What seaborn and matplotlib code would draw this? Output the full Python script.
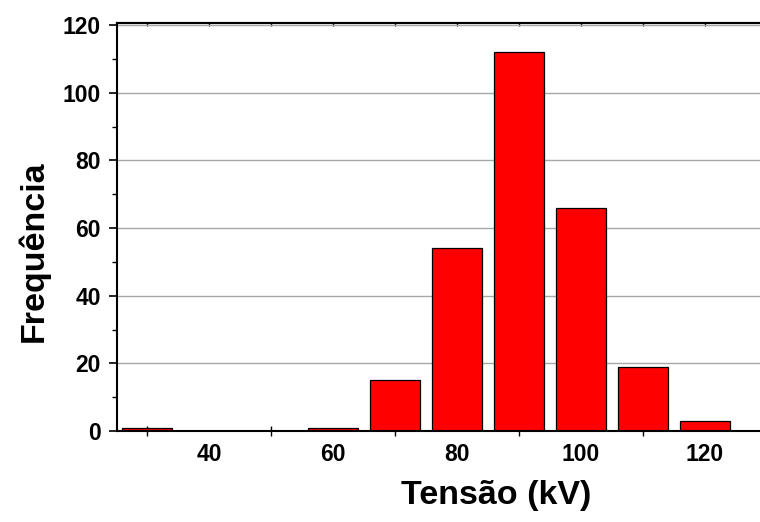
import matplotlib
matplotlib.use('Agg')
import matplotlib.pyplot as plt
import seaborn as sns
import pandas as pd
from matplotlib.ticker import FixedLocator, NullFormatter

# Data
voltage_kv = [30, 40, 50, 60, 70, 80, 90, 100, 110, 120]
frequency = [1, 0, 0, 1, 15, 54, 112, 66, 19, 3]
x_label_ticks = [40, 60, 80, 100, 120]
x_mark_ticks = [30, 50, 70, 90, 110]
top_ticks = [30, 40, 50, 60, 70, 80, 90, 100, 110, 120]
y_ticks = [0, 20, 40, 60, 80, 100, 120]
y_minor_ticks = [10, 30, 50, 70, 90, 110]

sns.set_theme(style='white')
plt.rcParams['font.family'] = ['Liberation Sans', 'DejaVu Sans']
plt.rcParams['font.weight'] = 'bold'

fig = plt.figure(figsize=(7.6, 5.22), dpi=100)
ax = fig.add_axes([117 / 760, 91 / 522, 643 / 760, 408.3 / 522])

df = pd.DataFrame({'v': voltage_kv, 'f': frequency})
sns.barplot(data=df, x='v', y='f', native_scale=True, width=0.81,
            color='#ff0000', saturation=1, edgecolor='black', linewidth=0.9,
            errorbar=None, ax=ax, zorder=2)

ax.set_xlim(25.16, 128.9)
ax.set_ylim(0, 120.68)

ax.yaxis.grid(True, color='#a8a8a8', lw=1)
ax.xaxis.grid(False)
ax.set_axisbelow(True)

# x ticks: labels at even decades without marks, marks at odd decades
ax.set_xticks(x_label_ticks)
ax.set_xticklabels([str(v) for v in x_label_ticks])
ax.xaxis.set_minor_locator(FixedLocator(x_mark_ticks))
ax.tick_params(axis='x', which='major', length=0, pad=8.5, labelsize=16.5,
               labelcolor='black', bottom=True)
ax.tick_params(axis='x', which='minor', direction='inout', length=7.5,
               width=1.0, color='black', bottom=True)

ax.set_yticks(y_ticks)
ax.yaxis.set_minor_locator(FixedLocator(y_minor_ticks))
ax.tick_params(axis='y', which='major', direction='out', length=6, width=1.2,
               pad=5.5, labelsize=16.5, labelcolor='black', color='black', left=True)
ax.tick_params(axis='y', which='minor', direction='out', length=3.5, width=1.0,
               color='black', left=True)

for s in ['left', 'bottom', 'top']:
    ax.spines[s].set_visible(True)
    ax.spines[s].set_color('black')
    ax.spines[s].set_linewidth(1.5)
ax.spines['right'].set_visible(False)

secax = ax.secondary_xaxis('top')
secax.set_xticks(top_ticks)
secax.xaxis.set_major_formatter(NullFormatter())
secax.tick_params(direction='in', length=2, width=1, color='black', top=True)
secax.spines['top'].set_linewidth(1.5)
secax.spines['top'].set_color('black')

ax.set_xlabel('Tensão (kV)', fontsize=24.5, fontweight='bold', color='black')
ax.xaxis.set_label_coords(0.590, -0.157)
ax.xaxis.label.set_va('center')

ax.set_ylabel('Frequência', fontsize=24.5, fontweight='bold', color='black')
ax.yaxis.set_label_coords(-0.1306, 0.441)
ax.yaxis.label.set_va('center')

fig.savefig('out.png', dpi=100)
